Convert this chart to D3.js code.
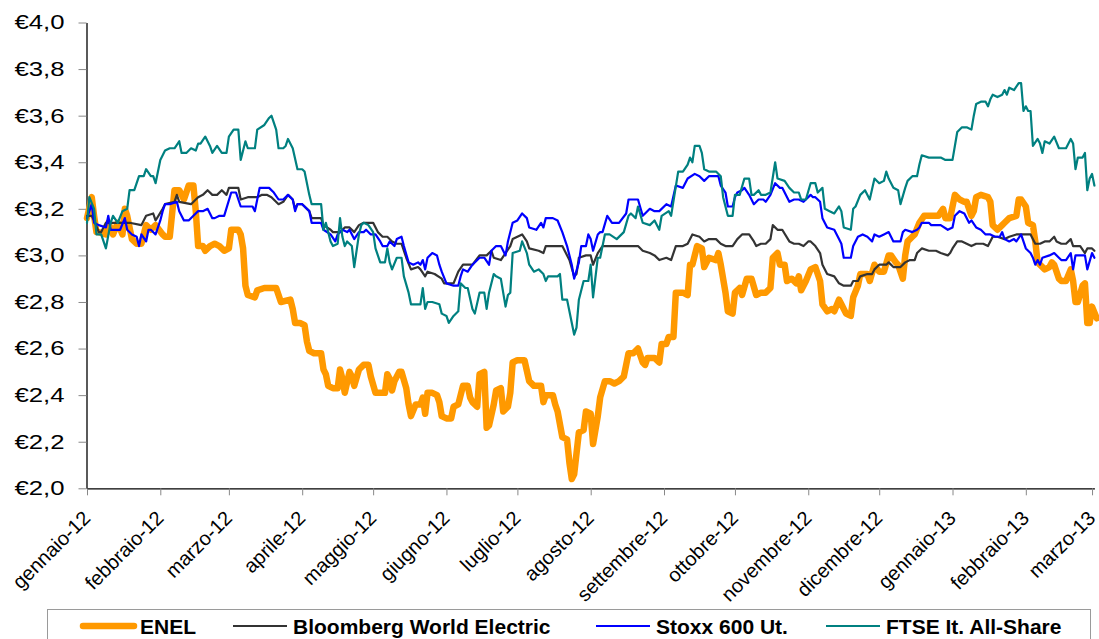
<!DOCTYPE html>
<html><head><meta charset="utf-8">
<script src="https://cdn.jsdelivr.net/npm/d3@7"></script>
<style>body{margin:0;background:#fff}svg{display:block}</style>
</head><body>
<svg id="chart" width="1099" height="639"></svg>
<script>
// ---------------- DATA ----------------
// dates are day offsets from 1 January 2012, values in euro
const startDate = new Date(2012, 0, 1);
const monthLabels = ["gennaio-12","febbraio-12","marzo-12","aprile-12","maggio-12","giugno-12","luglio-12",
  "agosto-12","settembre-12","ottobre-12","novembre-12","dicembre-12","gennaio-13","febbraio-13","marzo-13"];
const yTicks = [2.0, 2.2, 2.4, 2.6, 2.8, 3.0, 3.2, 3.4, 3.6, 3.8, 4.0];
const seriesNames = ["ENEL", "Bloomberg World Electric", "Stoxx 600 Ut.", "FTSE It. All-Share"];

const enel = [[0,3.16],[2,3.25],[3,3.17],[4,3.10],[5,3.10],[8,3.09],[9,3.14],[11,3.09],[13,3.14],[15,3.09],[16,3.20],[17,3.17],[19,3.07],[21,3.05],[23,3.05],[25,3.13],[27,3.11],[29,3.13],[32,3.09],[33,3.08],[35,3.08],[37,3.28],[39,3.28],[41,3.24],[43,3.30],[45,3.30],[46,3.19],[47,3.04],[49,3.04],[50,3.02],[52,3.04],[54,3.05],[56,3.04],[58,3.02],[60,3.03],[61,3.11],[64,3.11],[65,3.09],[66,3.03],[67,2.87],[68,2.83],[71,2.82],[72,2.85],[75,2.86],[77,2.86],[80,2.86],[81,2.83],[82,2.80],[86,2.81],[87,2.77],[88,2.71],[90,2.71],[92,2.70],[93,2.63],[94,2.59],[96,2.58],[99,2.58],[100,2.51],[101,2.49],[102,2.44],[104,2.43],[106,2.43],[107,2.51],[108,2.47],[109,2.41],[111,2.50],[112,2.48],[113,2.44],[115,2.51],[117,2.53],[119,2.53],[120,2.48],[122,2.41],[124,2.41],[126,2.41],[127,2.49],[128,2.47],[129,2.42],[130,2.46],[132,2.50],[133,2.50],[135,2.43],[136,2.36],[137,2.31],[139,2.36],[141,2.36],[142,2.39],[143,2.32],[144,2.41],[146,2.41],[148,2.40],[149,2.37],[150,2.31],[152,2.30],[154,2.30],[155,2.35],[157,2.36],[159,2.44],[161,2.44],[162,2.39],[163,2.37],[165,2.35],[166,2.49],[168,2.50],[169,2.26],[170,2.27],[172,2.36],[173,2.42],[175,2.43],[176,2.33],[178,2.35],[179,2.41],[180,2.54],[182,2.55],[185,2.55],[187,2.46],[189,2.44],[192,2.44],[193,2.37],[194,2.40],[197,2.40],[198,2.36],[199,2.33],[201,2.22],[203,2.21],[204,2.11],[205,2.04],[206,2.06],[208,2.24],[210,2.25],[211,2.33],[213,2.32],[214,2.19],[216,2.31],[217,2.39],[219,2.46],[221,2.46],[223,2.45],[225,2.46],[227,2.48],[228,2.53],[229,2.58],[231,2.58],[233,2.60],[235,2.54],[236,2.53],[237,2.56],[240,2.56],[242,2.54],[243,2.62],[245,2.62],[246,2.65],[248,2.65],[249,2.84],[252,2.84],[254,2.83],[255,2.96],[256,2.96],[258,3.04],[260,3.03],[261,2.95],[263,2.99],[266,2.98],[267,3.01],[268,2.96],[270,2.84],[271,2.76],[273,2.75],[274,2.84],[276,2.86],[277,2.83],[279,2.90],[281,2.90],[283,2.83],[285,2.84],[287,2.84],[289,2.86],[290,2.99],[292,3.01],[293,2.96],[295,2.96],[296,2.89],[298,2.90],[300,2.88],[301,2.91],[302,2.85],[304,2.89],[306,2.94],[308,2.95],[310,2.89],[311,2.79],[313,2.76],[315,2.77],[316,2.76],[318,2.81],[319,2.79],[321,2.75],[323,2.74],[324,2.82],[326,2.87],[327,2.92],[330,2.92],[331,2.89],[333,2.96],[335,2.93],[337,2.93],[339,3.00],[340,3.00],[342,2.97],[343,2.96],[345,2.90],[346,3.00],[347,3.06],[349,3.08],[350,3.09],[352,3.14],[354,3.17],[357,3.17],[359,3.17],[360,3.17],[362,3.20],[363,3.16],[365,3.16],[367,3.26],[369,3.24],[371,3.23],[372,3.23],[374,3.17],[375,3.19],[376,3.25],[378,3.26],[381,3.25],[382,3.23],[383,3.13],[385,3.11],[387,3.13],[388,3.14],[390,3.16],[393,3.17],[394,3.24],[395,3.24],[397,3.21],[398,3.14],[400,3.13],[401,3.06],[402,2.97],[405,2.94],[407,2.95],[408,2.97],[409,2.96],[411,2.90],[412,2.89],[414,2.89],[416,2.94],[417,2.89],[418,2.80],[419,2.80],[421,2.87],[422,2.88],[423,2.71],[424,2.71],[425,2.78],[427,2.73]];

const bloomberg = [[0,3.17],[2,3.17],[3,3.15],[5,3.10],[6,3.10],[8,3.14],[10,3.14],[14,3.14],[18,3.14],[23,3.13],[25,3.17],[28,3.18],[29,3.15],[32,3.20],[33,3.22],[37,3.23],[38,3.26],[39,3.23],[44,3.22],[46,3.24],[47,3.25],[49,3.26],[51,3.28],[53,3.26],[55,3.26],[57,3.28],[59,3.26],[60,3.29],[64,3.29],[65,3.24],[68,3.25],[72,3.25],[74,3.26],[76,3.26],[78,3.25],[81,3.22],[83,3.23],[85,3.26],[87,3.24],[88,3.20],[89,3.22],[91,3.22],[94,3.19],[95,3.16],[99,3.16],[100,3.13],[103,3.11],[104,3.10],[107,3.10],[109,3.12],[111,3.12],[113,3.10],[115,3.13],[117,3.14],[121,3.14],[123,3.10],[125,3.08],[127,3.08],[129,3.06],[131,3.05],[133,3.05],[135,2.99],[137,2.94],[140,2.95],[141,2.94],[143,2.91],[144,2.93],[147,2.92],[150,2.90],[151,2.88],[155,2.88],[157,2.93],[159,2.96],[162,2.96],[163,2.96],[166,3.00],[169,3.00],[171,3.02],[172,2.99],[175,2.98],[177,3.01],[179,3.04],[180,3.07],[182,3.08],[184,3.09],[186,3.06],[187,3.03],[191,3.02],[193,3.01],[194,3.04],[197,3.04],[200,3.04],[201,3.04],[204,2.98],[206,2.91],[207,2.92],[208,2.99],[211,3.00],[213,3.00],[214,2.96],[216,3.01],[218,3.04],[220,3.04],[223,3.04],[225,3.04],[228,3.04],[230,3.04],[233,3.04],[235,3.02],[238,3.01],[240,3.00],[242,2.98],[245,2.99],[247,2.98],[249,3.04],[252,3.04],[254,3.05],[256,3.09],[259,3.08],[261,3.06],[263,3.07],[266,3.07],[268,3.05],[270,3.04],[273,3.04],[275,3.07],[277,3.09],[280,3.09],[282,3.06],[283,3.04],[285,3.05],[287,3.05],[289,3.07],[290,3.13],[292,3.11],[294,3.11],[297,3.06],[299,3.05],[301,3.05],[303,3.04],[305,3.06],[306,3.06],[308,3.04],[310,3.01],[311,2.96],[313,2.92],[316,2.91],[318,2.88],[320,2.87],[323,2.87],[324,2.89],[326,2.89],[327,2.91],[330,2.92],[332,2.92],[333,2.94],[335,2.96],[338,2.96],[339,2.97],[341,2.95],[344,2.95],[346,2.97],[348,2.98],[350,2.98],[351,3.01],[353,3.03],[356,3.02],[358,3.02],[359,3.02],[361,3.01],[364,3.00],[365,3.01],[366,3.03],[368,3.06],[370,3.06],[372,3.05],[374,3.04],[376,3.05],[379,3.05],[381,3.04],[383,3.08],[385,3.08],[388,3.07],[390,3.08],[393,3.09],[396,3.09],[399,3.09],[401,3.05],[403,3.05],[405,3.06],[407,3.06],[409,3.08],[410,3.06],[412,3.05],[414,3.05],[416,3.07],[417,3.04],[418,3.04],[420,3.04],[422,3.01],[423,3.03],[425,3.03],[426,3.02]];

const stoxx = [[0,3.16],[2,3.22],[3,3.14],[5,3.13],[8,3.12],[9,3.17],[10,3.11],[12,3.11],[14,3.11],[16,3.16],[17,3.11],[19,3.09],[21,3.08],[22,3.04],[23,3.09],[25,3.06],[26,3.11],[27,3.11],[29,3.09],[31,3.15],[32,3.19],[33,3.22],[35,3.22],[38,3.23],[39,3.19],[41,3.15],[43,3.15],[45,3.17],[47,3.19],[49,3.19],[51,3.20],[53,3.16],[54,3.16],[56,3.17],[58,3.17],[61,3.27],[63,3.27],[65,3.21],[68,3.21],[70,3.21],[71,3.19],[73,3.29],[75,3.29],[77,3.29],[79,3.27],[81,3.24],[83,3.24],[85,3.26],[87,3.24],[88,3.19],[89,3.22],[91,3.22],[94,3.19],[95,3.14],[99,3.14],[100,3.11],[103,3.09],[105,3.06],[106,3.09],[108,3.11],[110,3.10],[111,3.11],[113,3.07],[115,3.10],[117,3.10],[118,3.11],[120,3.09],[122,3.09],[124,3.06],[125,3.04],[127,3.04],[128,3.06],[130,3.04],[131,3.07],[133,3.08],[134,3.04],[136,2.97],[138,2.96],[140,2.97],[141,2.96],[142,2.98],[143,2.94],[144,2.99],[146,3.01],[148,3.00],[149,2.96],[150,2.93],[152,2.88],[155,2.87],[157,2.87],[158,2.91],[159,2.94],[161,2.93],[163,2.96],[166,2.99],[168,2.99],[170,2.96],[171,3.02],[173,3.04],[175,3.04],[177,3.00],[178,3.06],[180,3.14],[182,3.15],[184,3.18],[186,3.16],[187,3.12],[190,3.11],[192,3.14],[193,3.12],[194,3.16],[196,3.16],[197,3.16],[199,3.15],[201,3.10],[203,3.04],[205,2.96],[206,2.90],[208,2.97],[209,3.04],[211,3.04],[212,3.09],[213,3.07],[214,3.02],[216,3.09],[217,3.10],[218,3.10],[220,3.17],[222,3.14],[225,3.14],[228,3.18],[229,3.24],[231,3.24],[233,3.24],[235,3.17],[236,3.18],[238,3.20],[240,3.19],[242,3.19],[245,3.22],[247,3.21],[249,3.30],[252,3.29],[254,3.33],[257,3.35],[259,3.34],[261,3.32],[263,3.34],[265,3.34],[267,3.34],[268,3.30],[270,3.27],[271,3.21],[273,3.21],[274,3.25],[275,3.27],[277,3.28],[278,3.29],[280,3.26],[282,3.22],[284,3.24],[286,3.24],[287,3.23],[289,3.26],[291,3.31],[293,3.29],[294,3.29],[297,3.23],[299,3.24],[301,3.24],[303,3.23],[306,3.26],[307,3.25],[308,3.25],[310,3.23],[311,3.16],[313,3.12],[316,3.11],[318,3.07],[319,3.05],[320,2.99],[323,2.99],[324,3.04],[326,3.08],[328,3.09],[330,3.08],[332,3.06],[333,3.09],[335,3.08],[337,3.09],[339,3.10],[341,3.06],[344,3.06],[345,3.10],[346,3.11],[349,3.10],[351,3.11],[352,3.12],[353,3.14],[356,3.14],[357,3.13],[361,3.13],[364,3.11],[366,3.12],[367,3.17],[369,3.19],[371,3.18],[373,3.14],[374,3.15],[376,3.12],[378,3.11],[380,3.09],[382,3.09],[384,3.08],[386,3.08],[387,3.10],[388,3.07],[390,3.06],[392,3.07],[393,3.06],[395,3.09],[397,3.03],[399,3.01],[400,2.99],[401,2.96],[402,2.98],[403,2.96],[404,2.99],[407,3.00],[409,3.01],[411,2.99],[412,2.98],[414,2.98],[416,3.01],[417,2.94],[418,3.00],[420,3.00],[422,3.00],[423,2.94],[425,3.01],[426,2.99]];

const ftse = [[0,3.14],[1,3.25],[3,3.20],[4,3.09],[6,3.09],[8,3.03],[10,3.14],[11,3.17],[13,3.14],[15,3.19],[17,3.20],[18,3.28],[20,3.28],[22,3.34],[24,3.34],[25,3.37],[27,3.34],[28,3.34],[29,3.31],[31,3.41],[33,3.45],[35,3.46],[37,3.46],[39,3.49],[40,3.44],[42,3.44],[44,3.46],[46,3.45],[47,3.48],[48,3.48],[50,3.51],[52,3.47],[53,3.44],[55,3.47],[57,3.44],[59,3.44],[60,3.51],[62,3.54],[64,3.54],[65,3.41],[67,3.49],[68,3.46],[71,3.46],[72,3.54],[75,3.56],[77,3.59],[78,3.60],[80,3.54],[81,3.46],[83,3.46],[84,3.47],[85,3.50],[87,3.46],[89,3.37],[91,3.37],[92,3.36],[94,3.26],[95,3.22],[97,3.22],[99,3.22],[100,3.11],[101,3.14],[103,3.06],[104,3.04],[106,3.05],[107,3.16],[108,3.08],[109,3.04],[110,3.06],[112,3.04],[113,2.95],[115,3.09],[116,3.13],[117,3.14],[119,3.13],[121,3.10],[122,3.03],[124,2.97],[126,2.97],[127,3.03],[128,2.97],[129,2.94],[131,2.99],[133,2.99],[134,2.91],[136,2.84],[137,2.79],[139,2.79],[141,2.79],[142,2.86],[143,2.77],[144,2.80],[146,2.80],[149,2.79],[150,2.75],[152,2.74],[153,2.71],[155,2.74],[157,2.76],[158,2.88],[160,2.86],[161,2.86],[163,2.77],[164,2.75],[166,2.84],[168,2.84],[169,2.77],[170,2.84],[172,2.92],[173,2.91],[175,2.90],[177,2.78],[178,2.83],[179,2.84],[180,3.01],[183,3.02],[184,3.06],[186,3.01],[187,2.96],[189,2.93],[191,2.94],[193,2.92],[194,2.89],[195,2.91],[197,2.91],[199,2.91],[200,2.92],[201,2.81],[203,2.81],[204,2.76],[206,2.66],[207,2.69],[208,2.81],[210,2.89],[212,2.89],[213,2.96],[214,2.82],[216,2.99],[217,2.99],[219,3.09],[221,3.09],[224,3.07],[227,3.10],[229,3.17],[230,3.18],[232,3.16],[233,3.21],[235,3.14],[238,3.13],[240,3.15],[242,3.11],[243,3.17],[246,3.19],[247,3.17],[250,3.36],[252,3.36],[254,3.39],[255,3.42],[256,3.40],[257,3.47],[259,3.47],[260,3.44],[261,3.37],[263,3.36],[264,3.36],[266,3.36],[268,3.34],[269,3.25],[271,3.17],[273,3.17],[274,3.26],[276,3.26],[278,3.33],[280,3.33],[281,3.26],[282,3.26],[284,3.28],[285,3.26],[287,3.26],[289,3.27],[291,3.40],[292,3.33],[295,3.32],[297,3.29],[299,3.27],[301,3.27],[302,3.24],[304,3.24],[306,3.31],[308,3.31],[309,3.27],[311,3.29],[312,3.20],[314,3.19],[316,3.18],[318,3.21],[319,3.19],[320,3.12],[323,3.11],[324,3.20],[325,3.21],[327,3.26],[329,3.28],[331,3.24],[333,3.33],[335,3.31],[337,3.32],[338,3.36],[339,3.33],[341,3.29],[343,3.28],[344,3.22],[346,3.29],[347,3.32],[349,3.34],[351,3.34],[352,3.39],[353,3.43],[356,3.42],[361,3.42],[363,3.41],[366,3.41],[368,3.53],[370,3.55],[372,3.55],[374,3.54],[375,3.60],[376,3.65],[378,3.66],[380,3.66],[381,3.64],[382,3.67],[383,3.69],[385,3.68],[387,3.69],[388,3.71],[389,3.69],[390,3.72],[392,3.71],[394,3.74],[395,3.74],[396,3.62],[397,3.64],[398,3.62],[399,3.62],[400,3.47],[402,3.50],[403,3.48],[404,3.44],[405,3.49],[407,3.48],[409,3.51],[411,3.46],[413,3.46],[414,3.46],[416,3.50],[417,3.48],[418,3.37],[419,3.42],[421,3.42],[422,3.44],[423,3.28],[424,3.33],[425,3.35],[426,3.30]];

// ---------------- DRAWING ----------------
const seriesData = [enel, bloomberg, stoxx, ftse];
const colors = ["#FF9900", "#333333", "#0000FF", "#008080"];
const widths = [6.5, 2.2, 2.2, 2.2];

const svg = d3.select("#chart");
const toDate = d => d3.timeDay.offset(startDate, d);
const endDate = new Date(2013, 2, 2);

const x = d3.scaleTime().domain([startDate, endDate]).range([87, 1094.4]);
const y = d3.scaleLinear().domain([2, 4]).range([488.3, 22.5]);

// x axis
const monthTicks = d3.timeMonth.range(startDate, endDate);
const xAxis = svg.append("g").attr("transform", "translate(0,488.3)")
  .call(d3.axisBottom(x).tickValues(monthTicks).tickSize(7).tickSizeOuter(0)
    .tickFormat((d, i) => monthLabels[i]));
xAxis.select(".domain").attr("stroke", "#000").attr("stroke-width", 1.3);
xAxis.selectAll(".tick line").attr("stroke", "#888");
xAxis.selectAll(".tick text")
  .attr("x", 0).attr("y", 0).attr("dy", null)
  .attr("text-anchor", "end")
  .attr("transform", "translate(4,31) rotate(-45)")
  .style("font-family", "'Liberation Sans', Arial, sans-serif")
  .style("font-size", "20px").attr("fill", "#000");

// y axis
const yAxis = svg.append("g").attr("transform", "translate(86.5,0)")
  .call(d3.axisLeft(y).tickValues(yTicks).tickSize(8).tickSizeOuter(0).tickPadding(14)
    .tickFormat(d => "€" + d.toFixed(1).replace(".", ",")));
yAxis.select(".domain").attr("stroke", "#000").attr("stroke-width", 1.3);
yAxis.selectAll(".tick line").attr("stroke", "#888");
yAxis.selectAll(".tick text")
  .style("font-family", "'Liberation Sans', Arial, sans-serif")
  .style("font-size", "20px").attr("fill", "#000")
  .attr("textLength", 50).attr("lengthAdjust", "spacingAndGlyphs");

// lines
const line = d3.line().x(d => x(toDate(d[0]))).y(d => y(d[1]));
svg.append("g").selectAll("path").data(seriesData).join("path")
  .attr("d", line)
  .attr("fill", "none")
  .attr("stroke", (d, i) => colors[i])
  .attr("stroke-width", (d, i) => widths[i])
  .attr("stroke-linejoin", "round")
  .attr("stroke-linecap", "round");

// legend
const legend = svg.append("g");
legend.append("rect").attr("x", 47.5).attr("y", 609.5).attr("width", 1043).attr("height", 40)
  .attr("fill", "#fff").attr("stroke", "#9a9a9a").attr("stroke-width", 1);
const legendX = [80, 233, 596, 826];
seriesNames.forEach((name, i) => {
  const g = legend.append("g").attr("transform", `translate(${legendX[i]},626)`);
  g.append("line").attr("x1", i === 0 ? 3 : 0).attr("x2", i === 0 ? 54 : 54)
    .attr("stroke", colors[i]).attr("stroke-width", widths[i])
    .attr("stroke-linecap", i === 0 ? "round" : "butt");
  g.append("text").attr("x", 60).attr("y", 0).attr("dy", "0.36em")
    .style("font-family", "'Liberation Sans', Arial, sans-serif")
    .style("font-size", "21px").style("font-weight", "bold").attr("fill", "#000")
    .text(name);
});
</script>
</body></html>
